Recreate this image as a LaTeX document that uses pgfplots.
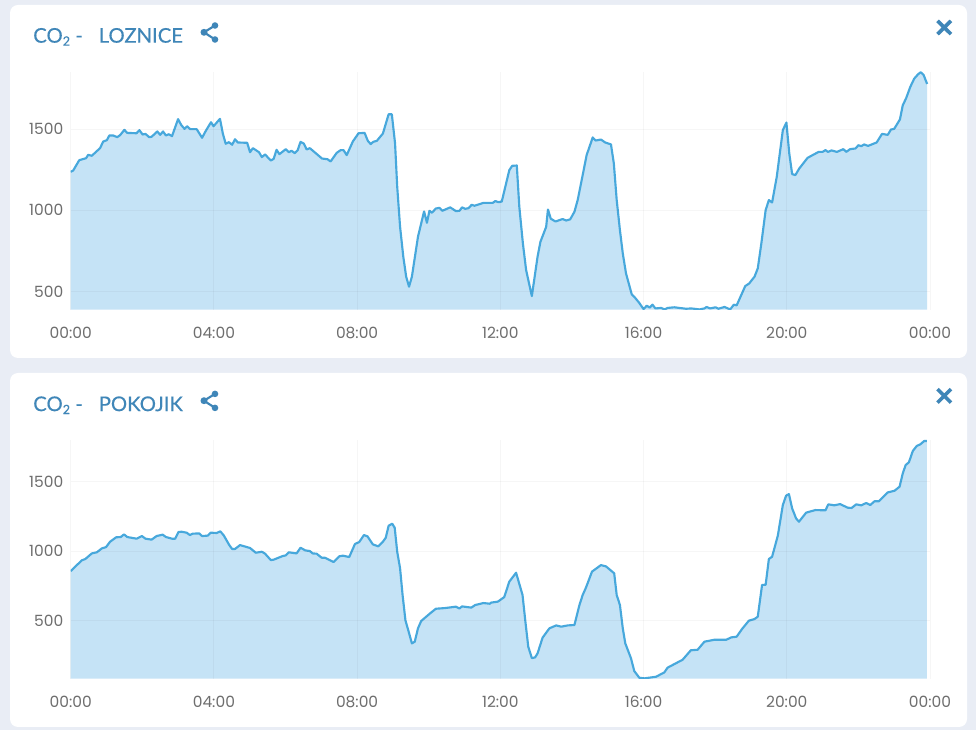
\documentclass[border=0pt]{standalone}
\usepackage{fontspec}
\setmainfont{Lato}
\newfontfamily\tickfont{Poppins}
\newfontfamily\titlefont[FakeBold=0.35]{Lato}
\usepackage{pgfplots}
\usepackage{pgfplotstable}
\pgfplotsset{compat=1.18}
\definecolor{pagebg}{HTML}{E9EDF5}
\definecolor{titlec}{HTML}{3F86B8}
\definecolor{linec}{HTML}{47A8DC}
\definecolor{fillc}{HTML}{C5E3F6}
\definecolor{tickc}{HTML}{6E6E6E}
\pgfplotstableread{
h v
0 1237
.07 1245
.24 1309
.43 1321
.49 1342
.59 1336
.82 1383
.91 1424
1.01 1432
1.08 1461
1.19 1461
1.30 1451
1.38 1463
1.50 1496
1.58 1477
1.84 1475
1.92 1494
2.01 1467
2.09 1471
2.19 1451
2.26 1453
2.42 1486
2.50 1465
2.58 1486
2.66 1461
2.74 1469
2.83 1457
3.00 1562
3.09 1525
3.18 1502
3.25 1518
3.34 1500
3.52 1500
3.67 1447
3.78 1492
3.92 1543
3.99 1518
4.17 1564
4.25 1473
4.33 1410
4.42 1420
4.51 1404
4.59 1438
4.67 1418
4.93 1416
5.01 1358
5.09 1383
5.26 1358
5.34 1328
5.43 1344
5.59 1307
5.67 1317
5.75 1373
5.83 1346
6.01 1377
6.09 1358
6.17 1367
6.26 1352
6.34 1371
6.42 1422
6.51 1412
6.59 1375
6.68 1383
7.02 1319
7.17 1315
7.26 1301
7.43 1354
7.54 1371
7.62 1371
7.71 1340
7.88 1424
8.04 1475
8.21 1477
8.30 1428
8.38 1408
8.45 1422
8.55 1428
8.72 1473
8.88 1592
8.97 1592
9.06 1412
9.12 1145
9.20 898
9.29 714
9.37 591
9.45 529
9.53 591
9.70 837
9.87 993
9.95 923
10.02 997
10.09 985
10.20 1011
10.30 1015
10.38 997
10.60 1018
10.76 995
10.86 997
10.93 1018
11.02 1009
11.11 1013
11.20 1034
11.28 1028
11.53 1046
11.71 1046
11.79 1046
11.86 1057
11.95 1050
12.04 1054
12.25 1247
12.33 1274
12.46 1276
12.53 1022
12.63 796
12.72 632
12.88 471
13.04 714
13.12 806
13.28 898
13.33 1005
13.41 948
13.54 931
13.74 946
13.84 937
13.95 944
14.07 991
14.16 1063
14.30 1217
14.41 1340
14.58 1449
14.66 1430
14.81 1436
14.93 1418
15.09 1406
15.17 1289
15.25 1063
15.34 878
15.42 734
15.51 611
15.67 482
15.74 467
15.87 432
16.00 391
16.09 412
16.17 400
16.25 418
16.33 395
16.49 398
16.59 389
16.67 398
16.86 402
17.00 398
17.19 393
17.33 395
17.56 389
17.70 395
17.76 404
17.86 395
18.01 402
18.09 393
18.26 404
18.42 389
18.52 418
18.60 414
18.84 533
18.95 549
19.10 591
19.19 642
19.29 796
19.41 1001
19.50 1063
19.59 1048
19.72 1206
19.89 1494
19.99 1541
20.07 1350
20.15 1223
20.24 1217
20.35 1258
20.58 1323
20.72 1340
20.89 1360
21.00 1360
21.08 1371
21.15 1360
21.25 1369
21.40 1360
21.58 1377
21.66 1360
21.77 1377
21.92 1381
22.00 1401
22.08 1395
22.16 1406
22.27 1397
22.51 1418
22.66 1471
22.82 1465
22.91 1498
23.00 1502
23.16 1560
23.24 1648
23.33 1689
23.45 1761
23.56 1812
23.67 1839
23.74 1851
23.82 1835
23.92 1779
}\loznice
\pgfplotstableread{
h v
0 857
.31 934
.41 944
.59 984
.73 992
.87 1020
.99 1030
1.10 1068
1.27 1100
1.40 1102
1.49 1121
1.58 1102
1.84 1090
1.99 1109
2.09 1090
2.26 1083
2.40 1109
2.57 1119
2.66 1102
2.83 1090
2.92 1090
3.01 1138
3.10 1140
3.24 1133
3.33 1116
3.41 1126
3.59 1128
3.67 1109
3.83 1112
3.91 1133
4.08 1131
4.18 1143
4.28 1112
4.43 1044
4.51 1016
4.59 1016
4.73 1044
5.01 1023
5.17 989
5.34 996
5.43 982
5.59 936
5.67 939
5.92 965
6.01 970
6.09 992
6.31 984
6.42 1025
6.55 1006
6.68 1001
6.76 984
6.87 982
7.01 953
7.10 953
7.34 922
7.50 963
7.60 968
7.78 958
7.94 1052
8.06 1066
8.19 1116
8.29 1107
8.44 1049
8.59 1035
8.72 1068
8.80 1097
8.88 1183
8.98 1198
9.05 1169
9.12 996
9.20 877
9.27 685
9.35 502
9.44 421
9.53 337
9.61 349
9.70 445
9.79 498
10.04 553
10.20 586
10.46 591
10.76 601
10.86 588
10.93 603
11.19 594
11.30 613
11.53 627
11.71 622
11.74 630
11.93 637
12.11 670
12.25 781
12.44 845
12.62 685
12.70 493
12.78 313
12.88 231
12.97 236
13.04 265
13.18 378
13.37 445
13.56 466
13.70 457
13.88 466
14.07 469
14.21 613
14.30 685
14.39 737
14.56 853
14.81 900
14.95 891
15.18 841
15.25 685
15.34 613
15.42 445
15.49 337
15.65 229
15.74 138
15.88 90
16.02 85
16.35 97
16.58 128
16.67 162
16.95 200
17.09 219
17.32 287
17.51 291
17.70 349
17.98 363
18.31 363
18.45 380
18.60 385
18.75 440
18.94 500
19.10 512
19.19 529
19.31 757
19.41 759
19.50 944
19.59 960
19.75 1112
19.89 1332
19.98 1399
20.06 1411
20.15 1308
20.26 1236
20.34 1212
20.54 1277
20.63 1284
20.80 1296
21.08 1294
21.16 1337
21.33 1330
21.49 1339
21.70 1313
21.81 1311
21.94 1337
22.08 1330
22.22 1347
22.33 1332
22.45 1359
22.57 1359
22.82 1423
23.01 1435
23.15 1464
23.24 1560
23.32 1620
23.41 1639
23.52 1721
23.63 1757
23.73 1769
23.84 1793
23.91 1793
}\pokojik
\pgfplotsset{
  card/.style={
    scale only axis, anchor=south west,
    width=644.5pt,
    xmin=0, xmax=24,
    xtick={0,4,8,12,16,20,24},
    xticklabels={00:00,04:00,08:00,12:00,16:00,20:00,00:00},
    axis line style={draw=none},
    major tick length=0pt,
    grid=major,
    major grid style={black,opacity=0.035,line width=0.75pt},
    axis on top,
    tick label style={font=\tickfont\fontsize{11.6}{14}\selectfont,text=tickc},
    xticklabel style={yshift=-9.5pt},
    yticklabel style={xshift=-2pt},
  },
  areaplot/.style={fill=fillc,draw=none,forget plot},
  lineplot/.style={draw=linec,line width=1.6pt,line join=round,no marks},
}
\newcommand{\cardhead}[3]{%
  \begin{scope}[yshift=#1]
    \node[anchor=base west,inner sep=0pt,text=titlec,font=\titlefont\fontsize{15.2}{18}\selectfont] at (33,42.7) {CO\raisebox{-2.2pt}{\fontsize{9.5}{10}\selectfont 2} -};
    \node[anchor=base west,inner sep=0pt,text=titlec,font=\titlefont\fontsize{15.2}{18}\selectfont] at (98.5,42.7) {#2};
    \draw[titlec,line width=1.6pt] (215,25.5)--(204,32.3)--(215,39.5);
    \fill[titlec] (215,25.5) circle[radius=3.3] (204,32.3) circle[radius=3.5] (215,39.5) circle[radius=3.3];
    \draw[titlec,line width=2.7pt] (937.5,20.8)--(951,34.2) (951,20.8)--(937.5,34.2);
  \end{scope}}
\begin{document}
\begin{tikzpicture}
\begin{scope}[x=0.75pt,y=-0.75pt]
  \path[use as bounding box,fill=pagebg] (0,0) rectangle (976,730);
  \fill[white,rounded corners=6pt] (10,5) rectangle (967,358);
  \fill[white,rounded corners=6pt] (10,373) rectangle (967,727);
\end{scope}
\begin{axis}[card, at={(53.0pt,-232.3pt)}, height=178.6pt,
  ymin=387, ymax=1855, ytick={500,1000,1500}, yticklabels={500,1000,1500}]
  \addplot[areaplot] table[x=h,y=v] {\loznice} \closedcycle;
  \addplot[lineplot] table[x=h,y=v] {\loznice};
\end{axis}
\begin{axis}[card, at={(53.0pt,-509.0pt)}, height=179.0pt,
  ymin=83, ymax=1800, ytick={500,1000,1500}, yticklabels={500,1000,1500}]
  \addplot[areaplot] table[x=h,y=v] {\pokojik} \closedcycle;
  \addplot[lineplot] table[x=h,y=v] {\pokojik};
\end{axis}
\begin{scope}[x=0.75pt,y=-0.75pt]
  \cardhead{0pt}{LOZNICE}{}
  \cardhead{-276.3pt}{POKOJIK}{}
\end{scope}
\end{tikzpicture}
\end{document}
